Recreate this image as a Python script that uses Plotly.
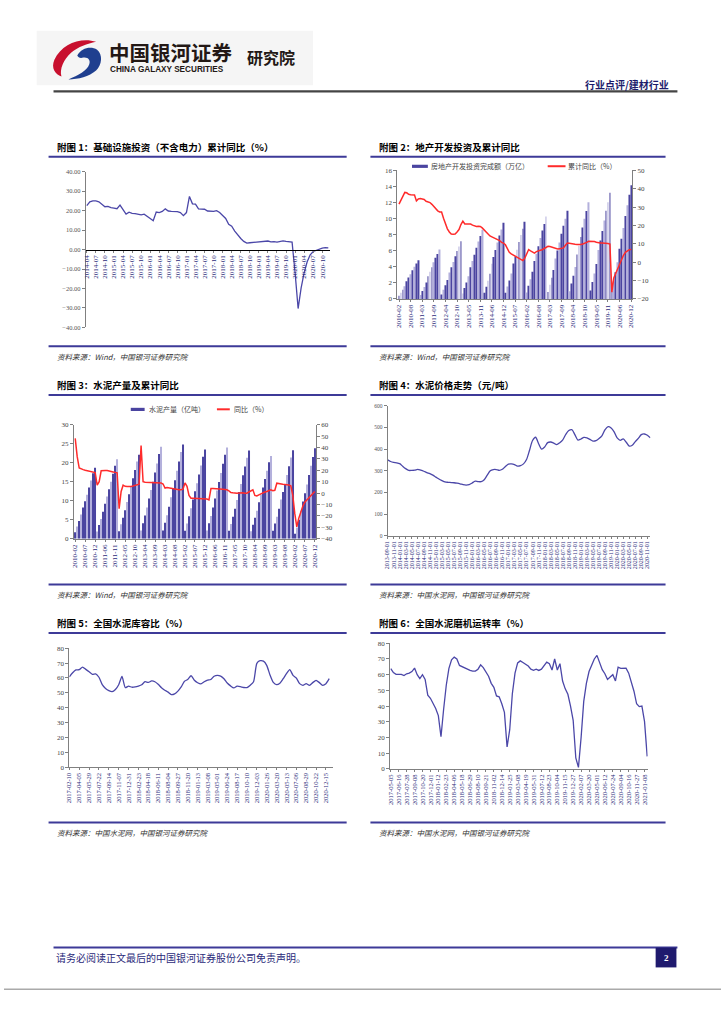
import plotly.graph_objects as go
import pandas as pd

# ---------------- DATA ----------------
# Chart 1: infrastructure investment (excl. power) cumulative YoY, %
c1_months = list(pd.date_range("2014-04-01", "2020-12-01", freq="MS").strftime("%Y-%m"))
infra_yoy = [22.6, 24.5, 25.0, 25.0, 24.5, 23.0, 22.0, 22.2, 21.5, 21.3, 21.0, 22.8,
             20.5, 18.2, 19.2, 18.6, 18.5, 18.3, 17.8, 18.2, 17.3, 16.0, 14.8, 19.3,
             19.0, 19.6, 20.9, 19.8, 19.6, 19.5, 19.5, 19.0, 17.4, 19.0, 27.3, 23.5,
             23.3, 20.9, 20.9, 20.7, 19.8, 19.6, 19.6, 20.0, 19.0, 17.5, 16.0, 13.0,
             12.0, 9.5, 7.3, 5.7, 4.2, 3.3, 3.5, 3.7, 3.8, 4.0, 4.3, 4.4,
             4.4, 4.0, 4.1, 3.8, 4.2, 4.5, 4.2, 4.0, 3.8, -12.0, -30.3, -19.7,
             -11.8, -6.3, -2.7, -1.0, -0.3, 0.2, 0.7, 1.0, 0.9]
c1_ticks = c1_months[::3]

# Chart 2 / 3 monthly categories (Feb-Dec)
c_monthly = [f"{y}-{m:02d}" for y in range(2010, 2021) for m in range(2, 13)]

# Chart 2: real-estate development investment (cumulative, trillion) and cumulative YoY (%)
re_2010 = [0.39, 0.77, 1.16, 1.59, 2.22, 2.66, 3.09, 3.57, 4.01, 4.40, 4.83]
re_2011 = [0.49, 0.99, 1.48, 2.04, 2.84, 3.39, 3.95, 4.57, 5.12, 5.61, 6.17]
re_2012 = [0.57, 1.15, 1.72, 2.37, 3.30, 3.95, 4.60, 5.31, 5.96, 6.53, 7.18]
re_2013 = [0.69, 1.38, 2.06, 2.84, 3.96, 4.73, 5.50, 6.36, 7.14, 7.83, 8.60]
re_2014 = [0.76, 1.52, 2.28, 3.14, 4.37, 5.23, 6.08, 7.03, 7.89, 8.65, 9.50]
re_2015 = [0.77, 1.54, 2.30, 3.17, 4.42, 5.28, 6.14, 7.10, 7.97, 8.74, 9.60]
re_2016 = [0.82, 1.64, 2.46, 3.39, 4.72, 5.64, 6.57, 7.59, 8.52, 9.34, 10.26]
re_2017 = [0.88, 1.76, 2.64, 3.62, 5.05, 6.04, 7.03, 8.13, 9.11, 9.99, 10.98]
re_2018 = [0.96, 1.92, 2.89, 3.97, 5.53, 6.62, 7.70, 8.90, 9.98, 10.95, 12.03]
re_2019 = [1.06, 2.12, 3.17, 4.36, 6.08, 7.27, 8.46, 9.78, 10.97, 12.03, 13.22]
re_2020 = [0.99, 2.18, 3.33, 4.58, 6.26, 7.48, 8.84, 10.31, 11.66, 12.98, 14.14]
re_inv = re_2010 + re_2011 + re_2012 + re_2013 + re_2014 + re_2015 + re_2016 + re_2017 + re_2018 + re_2019 + re_2020
re_yoy = [31.6, 34.0, 36.5, 38.0, 37.8, 37.0, 36.8, 36.6, 36.6, 33.4, 34.5,
          34.7, 34.5, 34.2, 33.2, 32.8, 32.5, 31.5, 30.3, 29.4, 28.0, 27.4,
          27.4, 24.0, 20.5, 18.2, 16.5, 15.4, 15.2, 15.4, 16.5, 17.8, 20.5,
          22.4, 20.8, 20.9, 20.6, 20.8, 20.2, 19.7, 19.5, 19.6, 19.5, 18.7,
          17.6, 16.2, 15.0, 14.3, 13.8, 13.4, 13.0, 12.6, 11.8, 10.8, 10.4,
          9.5, 7.3, 5.4, 4.6, 4.0, 3.4, 2.8, 2.2, 1.4, 0.9, 2.2,
          4.8, 6.9, 6.2, 5.6, 5.0, 5.8, 6.3, 6.5, 6.8, 7.3, 8.0,
          8.7, 8.6, 8.3, 8.0, 7.5, 7.2, 7.4, 7.5, 7.8, 9.2, 10.4,
          10.3, 10.0, 9.9, 9.8, 9.7, 9.6, 9.7, 9.9, 10.2, 10.8, 11.4,
          11.4, 11.4, 11.3, 10.9, 10.5, 10.5, 10.5, 10.5, 10.2, 10.2, 9.9,
          -16.3, -8.5, -6.0, -3.0, -0.5, 2.3, 3.8, 5.4, 6.2, 6.8, 7.0]

# Chart 3: cement production (cumulative, 100m t) and cumulative YoY (%)
cp_2010 = [1.7, 3.2, 4.7, 6.4, 8.2, 9.9, 11.6, 13.5, 15.3, 17.2, 18.7]
cp_2011 = [1.9, 3.6, 5.2, 7.1, 9.2, 11.1, 13.0, 15.0, 17.1, 19.2, 20.9]
cp_2012 = [2.0, 3.8, 5.5, 7.5, 9.7, 11.7, 13.7, 15.9, 18.1, 20.3, 22.1]
cp_2013 = [2.2, 4.1, 6.1, 8.2, 10.6, 12.8, 15.0, 17.4, 19.8, 22.3, 24.2]
cp_2014 = [2.2, 4.2, 6.2, 8.4, 10.9, 13.1, 15.4, 17.9, 20.3, 22.8, 24.8]
cp_2015 = [2.1, 4.0, 5.9, 8.0, 10.3, 12.5, 14.6, 16.9, 19.3, 21.6, 23.5]
cp_2016 = [2.2, 4.1, 6.0, 8.2, 10.6, 12.7, 14.9, 17.3, 19.7, 22.1, 24.0]
cp_2017 = [2.1, 3.9, 5.8, 7.9, 10.2, 12.3, 14.4, 16.7, 19.0, 21.3, 23.2]
cp_2018 = [2.0, 3.7, 5.5, 7.4, 9.6, 11.6, 13.5, 15.7, 17.9, 20.1, 21.8]
cp_2019 = [2.1, 4.0, 5.8, 7.9, 10.3, 12.3, 14.4, 16.8, 19.1, 21.4, 23.3]
cp_2020 = [1.3, 3.0, 5.0, 7.4, 9.8, 12.0, 14.3, 16.8, 19.2, 21.5, 23.8]
cement_prod = cp_2010 + cp_2011 + cp_2012 + cp_2013 + cp_2014 + cp_2015 + cp_2016 + cp_2017 + cp_2018 + cp_2019 + cp_2020
cement_yoy = [48, 32, 22, 21, 20.6, 20, 19.5, 19.2, 19, 18.6, 18,
              7, 10, 19.6, 20, 19.9, 19.8, 19.6, 19.2, 18.6, 18.2, 17.8,
              -13.7, 1.5, 7, 6, 5.8, 5.5, 5.8, 6.2, 6.6, 7.2, 7.8,
              41.7, 10, 9.5, 9.5, 9.5, 9.5, 9.5, 9.5, 9.4, 9.3, 9,
              8, 4.5, 5, 4.6, 4.2, 3.8, 3.5, 3.3, 3, 3, 3.5,
              9, 6, -2, -4.4, -4.5, -4.6, -4.7, -4.7, -4.8, -4.8, -5,
              -5.2, -6, 4, 4, 4, 3.8, 3.6, 3.5, 3.4, 3.2, 3,
              2, 0.6, 0.3, 0, 0, 0.2, 0.5, 0.3, 0, 0, 1,
              2, 3, -2, -2.5, -1.5, -0.5, 0.3, 1, 1.5, 2.3, 3,
              2.2, 2.5, 8.7, 8.2, 8, 7.8, 7.6, 7.5, 7.2, 6.5, -2,
              -18, -29.5, -22, -16, -11.5, -8, -6, -4, -2, 0, 1.5]

# Chart 4: cement price (yuan/t)
c4_dates = list(pd.date_range("2013-09-01", periods=88, freq="MS").strftime("%Y-%m-%d"))
cement_price = [351, 343, 339, 337, 333, 321, 310, 302, 302, 303, 307, 303,
                298, 292, 287, 280, 271, 262, 255, 249, 247, 246, 245, 243,
                240, 236, 234, 236, 244, 252, 250, 250, 259, 280, 300, 306,
                306, 302, 307, 320, 331, 332, 329, 322, 324, 332, 352, 395,
                440, 455, 425, 400, 410, 430, 433, 428, 421, 430, 443, 468,
                486, 490, 467, 442, 447, 454, 452, 445, 437, 439, 449, 463,
                490, 504, 498, 480, 452, 441, 447, 432, 414, 418, 435, 450,
                467, 470, 464, 452]
c4_ticks = c4_dates[::2]

# Chart 5: cement inventory ratio (%)
c5_dates = list(pd.date_range("2017-02-10", periods=80, freq="18D").strftime("%Y-%m-%d"))
inventory_ratio = [60.7, 63.5, 65.4, 65.6, 67.3, 65.8, 64.2, 62.5, 62.8, 60.5,
                   55.5, 53.0, 51.5, 50.8, 52.3, 55.5, 61.0, 53.5, 54.5, 53.8,
                   54.0, 54.6, 55.5, 57.5, 57.0, 58.0, 57.5, 55.8, 53.5, 51.8,
                   50.5, 48.8, 49.3, 51.2, 54.0, 57.8, 59.0, 61.5, 58.5, 56.8,
                   56.0, 57.5, 58.5, 59.0, 61.2, 61.8, 61.3, 59.5, 56.6, 54.7,
                   53.3, 54.5, 54.2, 53.6, 53.6, 55.2, 57.5, 69.8, 71.6, 71.3,
                   68.5, 62.0, 57.0, 55.5, 56.5, 59.5, 62.9, 65.6, 61.8, 60.0,
                   56.2, 55.1, 56.2, 55.1, 56.9, 58.4, 56.9, 55.1, 56.2, 59.6]
c5_ticks = c5_dates[::3]

# Chart 6: cement mill operating rate (%)
c6_dates = list(pd.date_range("2017-05-05", periods=98, freq="14D").strftime("%Y-%m-%d"))
mill_rate = [63.8, 61.3, 60.2, 60.4, 60.2, 59.5, 60.6, 61.0, 62.0, 64.2,
             60.0, 57.5, 60.0, 57.0, 47.0, 45.0, 42.0, 38.5, 34.0, 20.5,
             38.0, 53.3, 64.0, 69.5, 71.2, 70.0, 65.9, 65.0, 64.0, 63.3,
             62.7, 62.3, 62.3, 63.5, 66.3, 64.5, 62.0, 59.0, 54.5, 52.0,
             46.5, 45.9, 41.5, 36.0, 14.0, 25.0, 48.0, 61.0, 67.5, 68.8,
             67.8, 66.5, 65.5, 63.5, 62.8, 63.5, 62.7, 63.5, 66.0, 68.0,
             67.0, 63.0, 70.0, 63.0, 67.0, 56.0, 51.0, 47.5, 40.0, 31.0,
             7.0, 1.0, 20.0, 43.0, 54.5, 62.0, 66.0, 70.0, 72.3, 68.0,
             63.2, 60.6, 57.0, 58.5, 60.0, 56.0, 64.8, 64.0, 64.0, 64.2,
             61.0, 55.5, 49.5, 41.5, 39.7, 40.0, 30.1, 8.0]
c6_ticks = c6_dates[::3]

titles = ["附图 1：基础设施投资（不含电力）累计同比（%）",
          "附图 2：地产开发投资及累计同比",
          "附图 3：水泥产量及累计同比",
          "附图 4：水泥价格走势（元/吨）",
          "附图 5：全国水泥库容比（%）",
          "附图 6：全国水泥磨机运转率（%）"]
sources = ["资料来源：Wind，中国银河证券研究院",
           "资料来源：Wind，中国银河证券研究院",
           "资料来源：Wind，中国银河证券研究院",
           "资料来源：中国水泥网，中国银河证券研究院",
           "资料来源：中国水泥网，中国银河证券研究院",
           "资料来源：中国水泥网，中国银河证券研究院"]

# ---------------- STYLE / LAYOUT HELPERS ----------------
W, H = 724, 1024
def X(p): return p / W
def Y(p): return 1 - p / H

NAVY = "#3d3a98"
SERIES = "#4b47a8"
RED = "#ff2b2b"
DARK_BAR = "#4a44a0"
LIGHT_BAR = "#b3b0dc"
LBL_NAVY = "#2b2a7a"
CJK = "Noto Sans CJK SC"
SERIF = "Liberation Serif"

def ax(**kw):
    d = dict(showgrid=False, zeroline=False, showline=True, linecolor="#808080", linewidth=1,
             ticks="outside", ticklen=3, tickcolor="#808080", tickwidth=1, fixedrange=True,
             tickfont=dict(family=SERIF, size=7, color="#444"))
    d.update(kw)
    return d

def xlab(size=7):
    return dict(family=SERIF, size=size, color=LBL_NAVY)

bar_cols = [LIGHT_BAR if (i % 5) in (1, 3) else DARK_BAR for i in range(len(c_monthly))]

fig = go.Figure()
# Chart 1
fig.add_trace(go.Scatter(x=c1_months, y=infra_yoy, mode="lines", line=dict(color=SERIES, width=1.3),
                         xaxis="x", yaxis="y", showlegend=False))
# Chart 2
fig.add_trace(go.Bar(x=c_monthly, y=re_inv, marker=dict(color=bar_cols, line=dict(width=0)),
                     xaxis="x2", yaxis="y2", showlegend=False))
fig.add_trace(go.Scatter(x=c_monthly, y=re_yoy, mode="lines", line=dict(color=RED, width=1.5),
                         xaxis="x2", yaxis="y7", showlegend=False))
# Chart 3
fig.add_trace(go.Bar(x=c_monthly, y=cement_prod, marker=dict(color=bar_cols, line=dict(width=0)),
                     xaxis="x3", yaxis="y3", showlegend=False))
fig.add_trace(go.Scatter(x=c_monthly, y=cement_yoy, mode="lines", line=dict(color=RED, width=1.5),
                         xaxis="x3", yaxis="y8", showlegend=False))
# Chart 4
fig.add_trace(go.Scatter(x=c4_dates, y=cement_price, mode="lines",
                         line=dict(color=SERIES, width=1.3, shape="spline", smoothing=0.8),
                         xaxis="x4", yaxis="y4", showlegend=False))
# Chart 5
fig.add_trace(go.Scatter(x=c5_dates, y=inventory_ratio, mode="lines",
                         line=dict(color=SERIES, width=1.3, shape="spline", smoothing=0.6),
                         xaxis="x5", yaxis="y5", showlegend=False))
# Chart 6
fig.add_trace(go.Scatter(x=c6_dates, y=mill_rate, mode="lines", line=dict(color=SERIES, width=1.3),
                         xaxis="x6", yaxis="y6", showlegend=False))

layout = dict(
    width=W, height=H, autosize=False, margin=dict(l=0, r=0, t=0, b=0),
    paper_bgcolor="white", plot_bgcolor="rgba(0,0,0,0)", bargap=0.6,
    xaxis=ax(domain=[X(82.7), X(329)], anchor="free", position=Y(247.5), type="category",
             range=[-0.3, 80.5], tickmode="array", tickvals=c1_ticks, ticktext=c1_ticks,
             tickangle=-90, tickfont=xlab(7), linecolor="#000", ticklen=2),
    yaxis=ax(domain=[Y(326), Y(169)], anchor="x", range=[-40, 40], dtick=10, tickformat=".2f",
             tickfont=dict(family=SERIF, size=6.5, color="#555")),
    xaxis2=ax(domain=[X(397.3), X(634.3)], anchor="y2", type="category", range=[-0.8, 120.5],
              tickmode="array", tickvals=c_monthly[::6], ticktext=c_monthly[::6],
              tickangle=-90, tickfont=xlab(7), ticklen=2),
    yaxis2=ax(domain=[Y(297.3), Y(167.7)], anchor="x2", range=[0, 16], dtick=2),
    yaxis7=ax(overlaying="y2", anchor="x2", side="right", range=[-20, 50], dtick=10),
    xaxis3=ax(domain=[X(70.7), X(315)], anchor="y3", type="category", range=[-0.6, 120.6],
              tickmode="array", tickvals=c_monthly[::5], ticktext=c_monthly[::5],
              tickangle=-90, tickfont=xlab(7), ticklen=2),
    yaxis3=ax(domain=[Y(539), Y(424)], anchor="x3", range=[0, 30], dtick=5),
    yaxis8=ax(overlaying="y3", anchor="x3", side="right", range=[-40, 60], dtick=10),
    xaxis4=ax(domain=[X(387.3), X(652.7)], anchor="y4", type="category", range=[0, 87],
              tickmode="array", tickvals=c4_ticks, ticktext=c4_ticks,
              tickangle=-90, tickfont=xlab(6), ticklen=2),
    yaxis4=ax(domain=[Y(536), Y(405)], anchor="x4", range=[0, 600], dtick=100,
              tickfont=dict(family=SERIF, size=5.5, color="#555")),
    xaxis5=ax(domain=[X(66), X(332.7)], anchor="y5", type="category", range=[0, 80.3],
              tickmode="array", tickvals=c5_ticks, ticktext=c5_ticks,
              tickangle=-90, tickfont=xlab(6.5), ticklen=2),
    yaxis5=ax(domain=[Y(769.3), Y(649.3)], anchor="x5", range=[0, 80], dtick=10),
    xaxis6=ax(domain=[X(390), X(650)], anchor="y6", type="category", range=[-0.2, 97.2],
              tickmode="array", tickvals=c6_ticks, ticktext=c6_ticks,
              tickangle=-90, tickfont=xlab(6.5), ticklen=2),
    yaxis6=ax(domain=[Y(771), Y(644.3)], anchor="x6", range=[0, 80], dtick=10),
)

shapes = []
annos = []

def hline(x0, x1, y, color, width):
    shapes.append(dict(type="line", xref="paper", yref="paper", x0=X(x0), x1=X(x1),
                       y0=Y(y), y1=Y(y), line=dict(color=color, width=width)))

def rect(x0, y0, x1, y1, fill):
    shapes.append(dict(type="rect", xref="paper", yref="paper", x0=X(x0), x1=X(x1),
                       y0=Y(y1), y1=Y(y0), fillcolor=fill, line=dict(width=0), layer="below"))

def text(x, y, s, size, color="#000", xanchor="left", family=CJK, style="normal"):
    annos.append(dict(x=X(x), y=Y(y), xref="paper", yref="paper", text=s, showarrow=False,
                      xanchor=xanchor, yanchor="middle", borderpad=0,
                      font=dict(family=family, size=size, color=color, style=style)))

def path(cmds, fill):
    parts = []
    for c, pts in cmds:
        parts.append(c + " " + " ".join(f"{X(a):.5f},{Y(b):.5f}" for a, b in pts))
    shapes.append(dict(type="path", xref="paper", yref="paper", path=" ".join(parts) + " Z",
                       fillcolor=fill, line=dict(width=0)))

# Header
rect(33, 27, 312, 82, "#f5f5f5")
path([("M", [(93, 38)]), ("C", [(78, 33), (58, 40), (51, 56)]), ("C", [(47, 65), (52, 71), (58, 73)]),
      ("C", [(56, 66), (60, 56), (68, 49)]), ("C", [(75, 43), (84, 40), (93, 38)])], "#c8102e")
path([("M", [(74, 52)]), ("C", [(78, 44), (88, 42), (94, 46)]), ("C", [(100, 51), (99, 61), (93, 67)]),
      ("C", [(86, 73), (75, 76), (65, 76)]), ("C", [(75, 72), (84, 67), (86, 61)]),
      ("C", [(88, 56), (84, 53), (80, 54)]), ("C", [(77, 55), (75, 54), (74, 52)])], "#1f3f8f")
text(105, 48, "<b>中国银河证券</b>", 20.5, "#231815")
text(106, 66, "<b>CHINA GALAXY SECURITIES</b>", 8.2, "#231815", family="Liberation Sans")
text(244, 53, "<b>研究院</b>", 16, "#231815")
text(672, 81, "<b>行业点评/建材行业</b>", 10, "#1b1b6b", xanchor="right")
hline(50, 680, 88, "#444", 2.2)

# Chart frames
cols = [(45, 346, 53), (370, 668, 378)]
rows = [(144, 154, 345, 355), (384, 394, 585, 595), (624, 634, 825, 835)]
k = 0
for r in rows:
    for c in cols:
        text(c[2], r[0], "<b>" + titles[k] + "</b>", 9.5, "#000")
        hline(c[0], c[1], r[1], NAVY, 2)
        hline(c[0], c[1], r[2], NAVY, 2)
        text(c[2], r[3], sources[k], 7.5, "#333", style="italic")
        k += 1

# Legends (chart 2 and chart 3)
rect(412, 162, 428, 165.2, DARK_BAR)
text(430, 163.5, "房地产开发投资完成额（万亿）", 7, "#444")
hline(549, 567, 163.5, RED, 2)
text(569, 163.5, "累计同比（%）", 7, "#444")
rect(128, 407, 142, 410.2, DARK_BAR)
text(145, 408.5, "水泥产量（亿吨）", 7, "#444")
hline(215, 228, 408.5, RED, 2)
text(231, 408.5, "同比（%）", 7, "#444")

# Footer
hline(50, 680, 951, NAVY, 2)
text(51, 961, "请务必阅读正文最后的中国银河证券股份公司免责声明。", 10, "#2a2a7a")
rect(658, 951, 679, 971, "#1f1a6e")
shapes[-1]["layer"] = "above"
text(668.5, 961.5, "<b>2</b>", 9, "white", xanchor="center", family=SERIF)
hline(0, 724, 993, "#aaaaaa", 1.5)

layout["shapes"] = shapes
layout["annotations"] = annos
fig.update_layout(**layout)

fig.write_html("out.html", config={"displayModeBar": False},
               post_script="document.body.style.margin='0';document.body.style.overflow='hidden';")
